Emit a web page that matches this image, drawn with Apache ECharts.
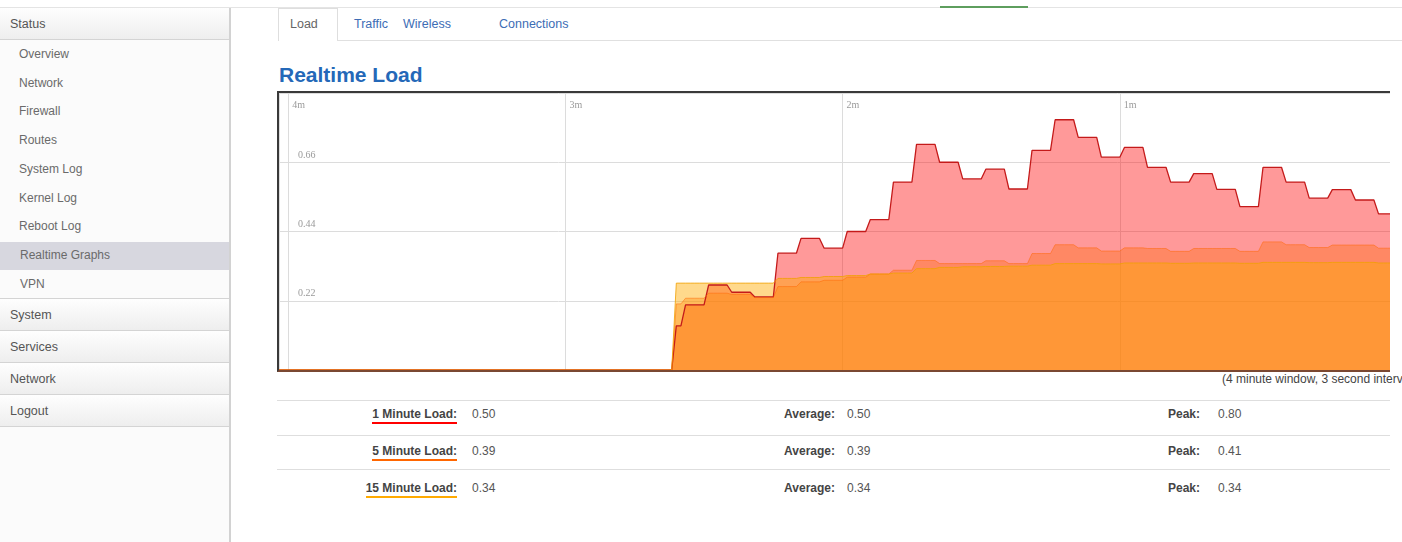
<!DOCTYPE html>
<html>
<head>
<meta charset="utf-8">
<script src="https://cdn.jsdelivr.net/npm/echarts@6/dist/echarts.min.js"></script>
<style>
html, body { margin:0; padding:0; width:1402px; height:542px; overflow:hidden; background:#fff;
  font-family:"Liberation Sans", Arial, sans-serif; }
.a { position:absolute; white-space:nowrap; }
#topline { left:0; top:7px; width:1402px; height:1px; background:#e4e4e4; }
#green { left:940px; top:6px; width:88px; height:2px; background:#5e9e5e; }
#sidebar { left:0; top:8px; width:229px; height:534px; background:#fbfbfb; border-right:2px solid #d2d2d2; }
.hdr { left:0; width:229px; background:linear-gradient(#fefefe,#eeeeee); border-bottom:1px solid #d4d4d4; }
.top { font-size:12.5px; color:#555; left:10px; transform:translateY(-50%); }
.sub { font-size:12px; color:#6a6a6a; left:19px; transform:translateY(-50%); }
#hl { left:0; top:242px; width:229px; height:28px; background:#d7d7df; }
#tabActive { left:278px; top:8px; width:58px; height:32px; border:1px solid #dedede; border-bottom:none; background:#fff; }
#tabLine { left:337px; top:40px; width:1065px; height:1px; background:#e0e0e0; }
.tab { font-size:12.5px; top:24px; transform:translateY(-50%); color:#3d6db5; }
#title { left:279px; top:63px; font-size:21px; font-weight:bold; color:#2468b8; }
#chartBox { position:absolute; left:277px; top:91px; width:1111px; height:277px;
  border-left:2px solid #3a3a3a; border-top:2px solid #3a3a3a; border-bottom:2px solid #7a4832; overflow:hidden; }
#chart { width:1124px; height:277px; margin-left:-3px; }
#note { left:1222px; top:379px; font-size:12px; color:#444; transform:translateY(-50%); }
.rule { left:277px; width:1113px; height:1px; background:#dedede; }
.lbl { font-size:12px; font-weight:bold; color:#444; transform:translateY(-50%); }
.val { font-size:12px; color:#555; transform:translateY(-50%); }
.ul { padding-bottom:1px; }
</style>
</head>
<body>
<div class="a" id="topline"></div>
<div class="a" id="green"></div>

<div class="a" id="sidebar"></div>
<div class="a hdr" style="top:8px;height:31px;"></div>
<div class="a top" style="top:24px;">Status</div>
<div class="a" id="hl"></div>
<div id="subItems"></div>
<div class="a hdr" style="top:298px;height:31px;border-top:1px solid #d4d4d4;"></div>
<div class="a hdr" style="top:331px;height:31px;"></div>
<div class="a hdr" style="top:363px;height:31px;"></div>
<div class="a hdr" style="top:395px;height:31px;"></div>
<div class="a top" style="top:315px;">System</div>
<div class="a top" style="top:347px;">Services</div>
<div class="a top" style="top:379px;">Network</div>
<div class="a top" style="top:411px;">Logout</div>

<div class="a" id="tabActive"></div>
<div class="a" id="tabLine"></div>
<div class="a tab" style="left:290px;color:#666;">Load</div>
<div class="a tab" style="left:354px;">Traffic</div>
<div class="a tab" style="left:403px;">Wireless</div>
<div class="a tab" style="left:499px;">Connections</div>

<div class="a" id="title">Realtime Load</div>
<div id="chartBox"><div id="chart"></div></div>
<div class="a" id="note">(4 minute window, 3 second interval)</div>

<div class="a rule" style="top:400px;"></div>
<div class="a rule" style="top:435px;"></div>
<div class="a rule" style="top:469px;"></div>
<div id="table"></div>

<script>
// menu entries under Status
var statusItems = ['Overview', 'Network', 'Firewall', 'Routes', 'System Log', 'Kernel Log', 'Reboot Log', 'Realtime Graphs', 'VPN'];

// load readings, one per 5 s refresh, oldest first (recording starts 156 s ago)
var windowSeconds = 242;
var refreshSeconds = 5;
var firstSampleAgo = 156;
var load1 = [0.14, 0.207, 0.27, 0.247, 0.232, 0.371, 0.418, 0.387, 0.44, 0.478, 0.597, 0.717,
  0.66, 0.607, 0.638, 0.575, 0.698, 0.795, 0.739, 0.676, 0.707, 0.644, 0.597, 0.624,
  0.574, 0.519, 0.644, 0.597, 0.546, 0.573, 0.54, 0.496];
var load5 = [0.21, 0.228, 0.244, 0.24, 0.23, 0.265, 0.28, 0.285, 0.295, 0.305, 0.317, 0.348,
  0.338, 0.338, 0.347, 0.338, 0.37, 0.398, 0.388, 0.378, 0.388, 0.386, 0.377, 0.386,
  0.386, 0.377, 0.407, 0.398, 0.389, 0.397, 0.397, 0.387];
var load15 = [0.276, 0.276, 0.276, 0.276, 0.276, 0.291, 0.294, 0.297, 0.3, 0.305, 0.308, 0.322,
  0.326, 0.328, 0.329, 0.33, 0.333, 0.338, 0.338, 0.337, 0.34, 0.34, 0.339, 0.34,
  0.34, 0.339, 0.342, 0.342, 0.341, 0.342, 0.342, 0.34];

var minuteLabels = ['1m', '2m', '3m', '4m'];
var loadTicks = [0.22, 0.44, 0.66];

// table below the graph
var rowNames = ['1 Minute Load:', '5 Minute Load:', '15 Minute Load:'];
var rowColors = ['#ff0000', '#ff6600', '#ffaa00'];
var curVals = ['0.50', '0.39', '0.34'];
var avgVals = ['0.50', '0.39', '0.34'];
var peakVals = ['0.80', '0.41', '0.34'];

function buildMenu() {
    var html = '';
    for (var i = 0; i < statusItems.length; i++) {
        var y = 54 + i * 28.7;
        html += '<div class="a sub" style="top:' + y + 'px;' + (i >= 7 ? 'left:20px;' : '') + '">' + statusItems[i] + '</div>';
    }
    document.getElementById('subItems').innerHTML = html;
}

function buildTable() {
    var rows = [414, 451, 488];
    var html = '';
    for (var i = 0; i < rowNames.length; i++) {
        var y = rows[i];
        html += '<div class="a lbl" style="top:' + y + 'px;right:' + (1402 - 457) + 'px;"><span class="ul" style="border-bottom:2px solid ' + rowColors[i] + '">' + rowNames[i] + '</span></div>';
        html += '<div class="a val" style="top:' + y + 'px;left:472px;">' + curVals[i] + '</div>';
        html += '<div class="a lbl" style="top:' + y + 'px;right:' + (1402 - 835) + 'px;">Average:</div>';
        html += '<div class="a val" style="top:' + y + 'px;left:847px;">' + avgVals[i] + '</div>';
        html += '<div class="a lbl" style="top:' + y + 'px;right:' + (1402 - 1200) + 'px;">Peak:</div>';
        html += '<div class="a val" style="top:' + y + 'px;left:1218px;">' + peakVals[i] + '</div>';
    }
    document.getElementById('table').innerHTML = html;
}

// one point per second, the value holds until the next refresh
function samples(readings) {
    var out = [];
    for (var t = windowSeconds; t >= 0; t--) {
        var v = 0;
        if (t <= firstSampleAgo) {
            v = readings[readings.length - 1 - Math.floor(t / refreshSeconds)];
        }
        out.push([t, v]);
    }
    return out;
}

function loadSeries(name, readings, color, fill, stroke, width) {
    return {
        name: name,
        type: 'line',
        data: samples(readings),
        symbol: 'none',
        lineStyle: { color: stroke, width: width },
        areaStyle: { color: color, opacity: fill },
        itemStyle: { color: color }
    };
}

function initChart() {
    var chart = echarts.init(document.getElementById('chart'));
    chart.setOption({
        animation: false,
        grid: { left: 0, right: 0, top: 0, bottom: 0 },
        xAxis: {
            type: 'value', inverse: true, position: 'top',
            min: 0, max: windowSeconds, interval: 60,
            axisLine: { show: false }, axisTick: { show: false },
            splitLine: { lineStyle: { color: '#dcdcdc', width: 1 } },
            axisLabel: {
                inside: true, margin: 7, align: 'left', verticalAlign: 'top',
                padding: [0, 0, 0, 4],
                fontFamily: 'Liberation Serif', fontSize: 10, color: '#9a9a9a',
                formatter: function (v) {
                    return (v > 0 && v % 60 === 0) ? (minuteLabels[v / 60 - 1] || '') : '';
                }
            }
        },
        yAxis: {
            type: 'value', min: 0, max: 0.88, interval: 0.22,
            axisLine: { show: false }, axisTick: { show: false },
            splitLine: { lineStyle: { color: '#dcdcdc', width: 1 } },
            axisLabel: {
                inside: true, margin: 19, verticalAlign: 'bottom', padding: [0, 0, 2, 0],
                fontFamily: 'Liberation Serif', fontSize: 10, color: '#9a9a9a',
                formatter: function (v) {
                    for (var i = 0; i < loadTicks.length; i++) {
                        if (Math.abs(v - loadTicks[i]) < 1e-6) return loadTicks[i].toFixed(2);
                    }
                    return '';
                }
            }
        },
        series: [
            loadSeries('1 Minute Load', load1, '#ff0000', 0.4, '#c41a1a', 1.3),
            loadSeries('5 Minute Load', load5, '#ff6600', 0.35, 'rgba(255,102,0,0.5)', 1),
            loadSeries('15 Minute Load', load15, '#ffaa00', 0.45, 'rgba(240,160,0,0.8)', 1)
        ]
    });
}

buildMenu();
buildTable();
initChart();
</script>
</body>
</html>
